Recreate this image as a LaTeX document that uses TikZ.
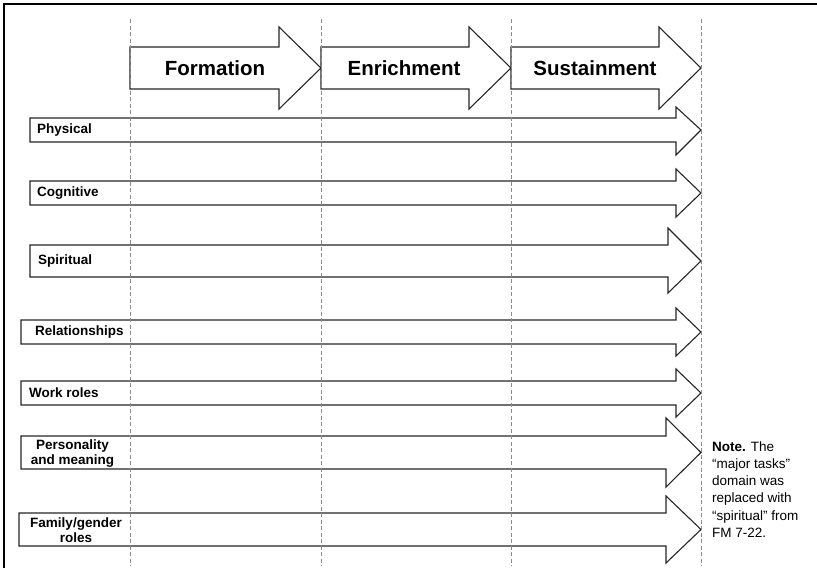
\documentclass[tikz,border=0pt]{standalone}
\usepackage{fontspec}
\setmainfont{Liberation Sans}
\begin{document}
\begin{tikzpicture}[x=1pt,y=-1pt,
  guide/.style={draw=black!45, dash pattern=on 4pt off 2.5pt, line width=0.9pt},
  blockarrow/.style={draw=black!85, fill=white, line width=1.1pt, line join=miter},
  phaselabel/.style={font=\fontsize{20.5}{24}\selectfont\bfseries, inner sep=0pt},
  domainlabel/.style={font=\fontsize{13.5}{15}\selectfont\bfseries, inner sep=0pt, align=center},
  notetext/.style={font=\fontsize{13.5}{17.3}\selectfont, inner sep=0pt, align=left}]
\useasboundingbox (0,0) rectangle (817,568);

% block arrow: #1 start x, #2 shaft top, #3 shaft bottom, #4 head base x,
% #5 head top, #6 head bottom, #7 tip x, #8 tip y
\newcommand\blockarr[8]{%
  \draw[blockarrow] (#1,#2) -- (#4,#2) -- (#4,#5) -- (#7,#8) -- (#4,#6)
    -- (#4,#3) -- (#1,#3) -- cycle;}

% frame
\draw[line width=2.5pt] (4,568) -- (4,4) -- (817,4);

% phase arrows
\blockarr{130}{47}{89}{279}{27}{109}{321}{68}
\blockarr{321}{47}{89}{469}{27}{109}{511}{68}
\blockarr{511}{47}{89}{659}{27}{109}{701}{68}

% domain arrows
\blockarr{30}{118}{142}{676}{107}{155}{701}{130}
\blockarr{30}{181}{205}{676}{169}{217}{701}{193}
\blockarr{30}{245}{277}{668}{228}{293}{701}{261}
\blockarr{21}{320}{344}{676}{308}{356}{701}{332}
\blockarr{21}{381}{405}{676}{369}{417}{701}{393}
\blockarr{21}{436}{469}{666}{418}{487}{701}{452.5}
\blockarr{19}{513}{546}{666}{496}{563}{701}{529.5}

% phase boundaries
\coordinate (g1t) at (130,19); \coordinate (g1b) at (130,566);
\coordinate (g2t) at (321,19); \coordinate (g2b) at (321,566);
\coordinate (g3t) at (511,19); \coordinate (g3b) at (511,566);
\coordinate (g4t) at (701,19); \coordinate (g4b) at (701,566);
\draw[guide] (g1t) -- (g1b);
\draw[guide] (g2t) -- (g2b);
\draw[guide] (g3t) -- (g3b);
\draw[guide] (g4t) -- (g4b);

% phase labels
\node[phaselabel] (formation) at (215,68) {Formation};
\node[phaselabel] (enrichment) at (404,68) {Enrichment};
\node[phaselabel] (sustainment) at (595,68) {Sustainment};

% domain labels
\node[domainlabel, anchor=west] (physical) at (37,130) {Physical};
\node[domainlabel, anchor=west] (cognitive) at (37,193) {Cognitive};
\node[domainlabel, anchor=west] (spiritual) at (38,261) {Spiritual};
\node[domainlabel, anchor=west] (relationships) at (35,332) {Relationships};
\node[domainlabel, anchor=west] (work) at (29,393) {Work roles};
\node[domainlabel] (personality) at (72.5,454) {Personality\\and meaning};
\node[domainlabel] (family) at (76,530.5) {Family/gender\\roles};

% note (anchored at the baseline of its last line)
\node[notetext, anchor=base west] (note) at (712,537.5)
  {\textbf{Note.} The\\“major tasks”\\domain was\\replaced with\\“spiritual” from\\FM 7-22.};
\end{tikzpicture}
\end{document}
